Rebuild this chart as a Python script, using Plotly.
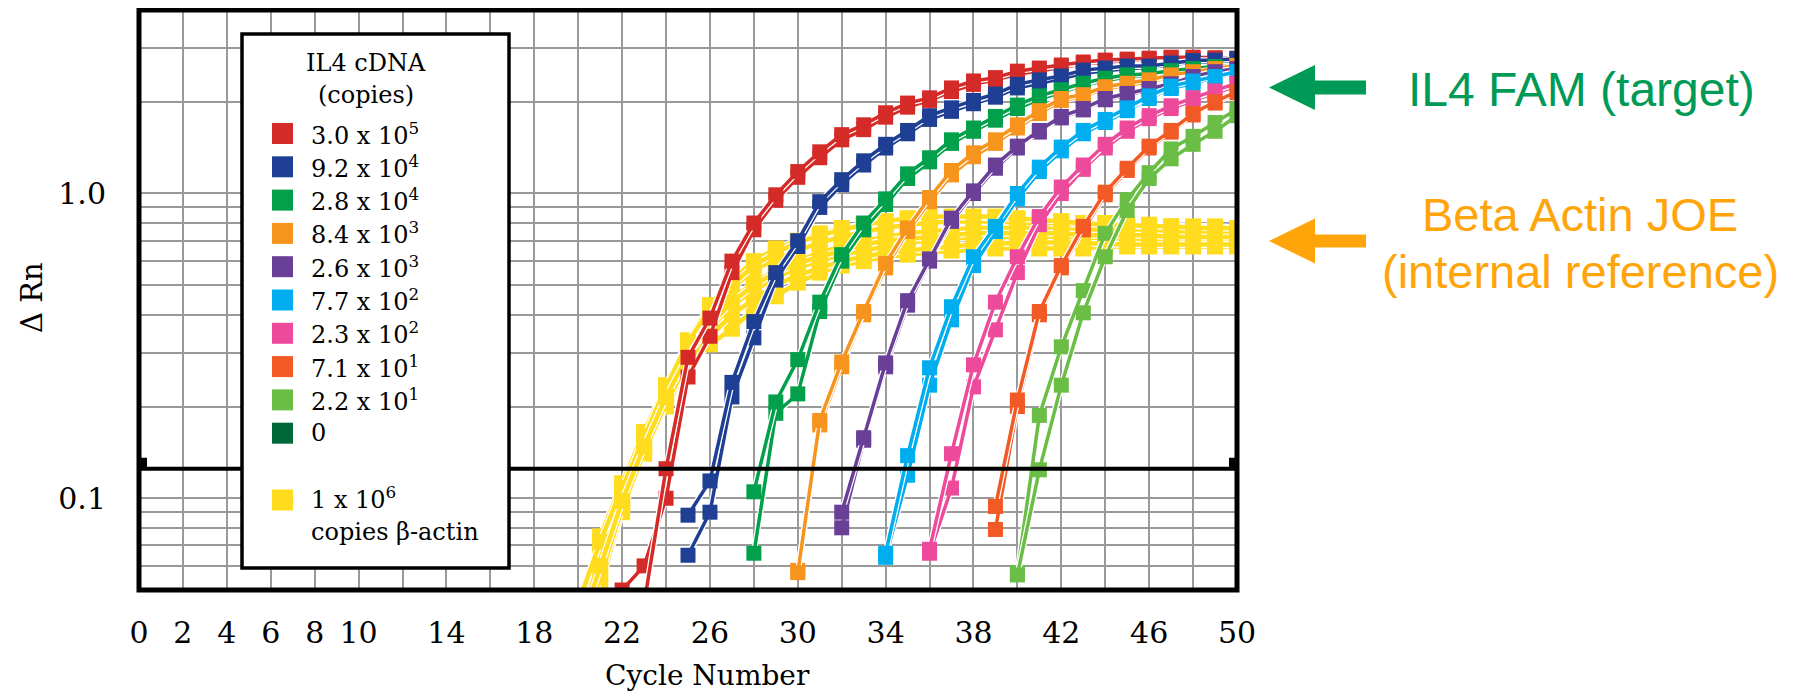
import plotly.graph_objects as go

# ---------------- data ----------------
CYCLE_GRID = list(range(0, 51, 2))
CYCLE_LABELED = [0, 2, 4, 6, 8, 10, 14, 18, 22, 26, 30, 34, 38, 42, 46, 50]
RN_MINOR = [0.06, 0.07, 0.08, 0.09, 0.2, 0.3, 0.4, 0.5, 0.6, 0.7, 0.8, 0.9, 2.0, 3.0]
RN_MAJOR = [0.1, 1.0]
RN_LABELS = ["0.1", "1.0"]
RN_RANGE_LOG = [-1.30103, 0.60206]   # 0.05 .. 4.0
CYCLE_RANGE = [0, 50]
THRESHOLD = 0.125

IL4_NAMES = ["3.0 x 10<sup>5</sup>", "9.2 x 10<sup>4</sup>", "2.8 x 10<sup>4</sup>",
             "8.4 x 10<sup>3</sup>", "2.6 x 10<sup>3</sup>", "7.7 x 10<sup>2</sup>",
             "2.3 x 10<sup>2</sup>", "7.1 x 10<sup>1</sup>", "2.2 x 10<sup>1</sup>", "0"]
IL4_COLORS = ["#D52B28", "#1F3F94", "#03A04B", "#F7941D", "#6A3F98",
              "#00AEEF", "#EE4A9B", "#F15A24", "#6ABD45", "#006838"]
ACTIN_NAME = "1 x 10<sup>6</sup>"
ACTIN_NAME2 = "copies β-actin"
ACTIN_COLOR = "#FFDC1E"

# IL4 replicate amplification curves: (first cycle, delta Rn per cycle)
rep_3_0e5 = [
    (22, [0.050, 0.060, 0.100, 0.250, 0.340, 0.550, 0.760, 0.950, 1.13, 1.31, 1.50, 1.62, 1.78, 1.92, 2.02,
          2.16, 2.28, 2.36, 2.46, 2.53, 2.60, 2.66, 2.70, 2.73, 2.75, 2.78, 2.78, 2.77, 2.76]),
    (23, [0.045, 0.125, 0.290, 0.390, 0.600, 0.800, 0.990, 1.18, 1.37, 1.56, 1.68, 1.84, 1.98, 2.06,
          2.22, 2.34, 2.40, 2.52, 2.58, 2.64, 2.70, 2.74, 2.76, 2.78, 2.80, 2.80, 2.79, 2.78]),
]
rep_9_2e4 = [
    (25, [0.065, 0.090, 0.215, 0.336, 0.520, 0.670, 0.900, 1.07, 1.24, 1.41, 1.57, 1.75, 1.86, 1.97,
          2.07, 2.22, 2.30, 2.38, 2.48, 2.53, 2.57, 2.59, 2.64, 2.70, 2.70, 2.74]),
    (25, [0.088, 0.114, 0.240, 0.380, 0.550, 0.700, 0.940, 1.11, 1.28, 1.45, 1.61, 1.80, 1.91, 2.02,
          2.12, 2.28, 2.36, 2.43, 2.54, 2.58, 2.62, 2.62, 2.68, 2.73, 2.74, 2.77]),
]
rep_2_8e4 = [
    (28, [0.066, 0.190, 0.220, 0.410, 0.600, 0.760, 0.920, 1.12, 1.27, 1.46, 1.60, 1.74, 1.90, 2.04,
          2.15, 2.26, 2.35, 2.41, 2.44, 2.50, 2.54, 2.58, 2.60]),
    (28, [0.105, 0.207, 0.285, 0.440, 0.630, 0.800, 0.960, 1.16, 1.31, 1.50, 1.64, 1.79, 1.95, 2.09,
          2.19, 2.30, 2.39, 2.45, 2.47, 2.53, 2.57, 2.61, 2.63]),
]
rep_8_4e3 = [
    (30, [0.058, 0.174, 0.270, 0.400, 0.570, 0.750, 0.940, 1.15, 1.32, 1.46, 1.64, 1.83, 2.02, 2.08,
          2.21, 2.26, 2.32, 2.41, 2.48, 2.54, 2.60]),
    (30, [0.057, 0.180, 0.280, 0.410, 0.590, 0.770, 0.970, 1.19, 1.36, 1.50, 1.68, 1.87, 2.05, 2.11,
          2.24, 2.30, 2.36, 2.45, 2.51, 2.57, 2.63]),
]
rep_2_6e3 = [
    (32, [0.080, 0.155, 0.270, 0.430, 0.600, 0.810, 1.00, 1.21, 1.41, 1.59, 1.77, 1.88, 2.03, 2.11,
          2.19, 2.27, 2.40, 2.49, 2.55]),
    (32, [0.090, 0.158, 0.278, 0.445, 0.610, 0.830, 1.02, 1.24, 1.43, 1.61, 1.79, 1.90, 2.05, 2.13,
          2.21, 2.29, 2.42, 2.51, 2.57]),
]
rep_7_7e2 = [
    (34, [0.064, 0.119, 0.235, 0.385, 0.580, 0.750, 0.960, 1.18, 1.38, 1.57, 1.71, 1.87, 2.05, 2.21,
          2.30, 2.40, 2.48]),
    (34, [0.066, 0.138, 0.268, 0.425, 0.620, 0.780, 1.00, 1.22, 1.42, 1.61, 1.75, 1.91, 2.09, 2.25,
          2.34, 2.42, 2.51]),
]
rep_2_3e2 = [
    (36, [0.066, 0.108, 0.232, 0.357, 0.550, 0.790, 1.00, 1.20, 1.41, 1.60, 1.76, 1.90, 2.02, 2.13, 2.26]),
    (36, [0.068, 0.140, 0.274, 0.440, 0.620, 0.840, 1.05, 1.24, 1.45, 1.64, 1.80, 1.94, 2.06, 2.17, 2.30]),
]
rep_7_1e1 = [
    (39, [0.079, 0.200, 0.400, 0.570, 0.760, 0.990, 1.19, 1.41, 1.59, 1.81, 1.98, 2.14]),
    (39, [0.094, 0.210, 0.410, 0.580, 0.780, 1.01, 1.21, 1.43, 1.61, 1.83, 2.00, 2.16]),
]
rep_2_2e1 = [
    (40, [0.057, 0.187, 0.314, 0.480, 0.740, 0.955, 1.17, 1.40, 1.54, 1.71, 1.89]),
    (40, [0.056, 0.124, 0.235, 0.406, 0.620, 0.880, 1.12, 1.30, 1.45, 1.60, 1.80]),
]
rep_0 = []   # no-template control: no amplification inside the axis range

IL4_REPLICATES = [rep_3_0e5, rep_9_2e4, rep_2_8e4, rep_8_4e3, rep_2_6e3,
                  rep_7_7e2, rep_2_3e2, rep_7_1e1, rep_2_2e1, rep_0]

# beta-actin (JOE) internal reference curves, from cycle 20
ACTIN_REPLICATES = [
    (20, [0.042, 0.075, 0.112, 0.165, 0.235, 0.330, 0.430, 0.520, 0.600, 0.660, 0.700, 0.740, 0.770, 0.790,
          0.810, 0.820, 0.830, 0.830, 0.830, 0.830, 0.820, 0.820, 0.810, 0.800, 0.800, 0.790, 0.790, 0.780,
          0.780, 0.780, 0.770]),
    (20, [0.040, 0.070, 0.106, 0.158, 0.228, 0.320, 0.410, 0.490, 0.560, 0.610, 0.650, 0.690, 0.720, 0.750,
          0.770, 0.790, 0.800, 0.810, 0.810, 0.810, 0.800, 0.800, 0.790, 0.790, 0.780, 0.780, 0.770, 0.770,
          0.760, 0.760, 0.760]),
    (20, [0.037, 0.064, 0.100, 0.150, 0.220, 0.300, 0.380, 0.450, 0.510, 0.560, 0.600, 0.640, 0.670, 0.700,
          0.720, 0.740, 0.750, 0.760, 0.770, 0.770, 0.770, 0.770, 0.760, 0.760, 0.760, 0.750, 0.750, 0.750,
          0.740, 0.740, 0.740]),
    (20, [0.035, 0.058, 0.096, 0.146, 0.212, 0.290, 0.360, 0.430, 0.480, 0.530, 0.570, 0.600, 0.630, 0.650,
          0.670, 0.690, 0.700, 0.710, 0.720, 0.720, 0.720, 0.720, 0.720, 0.710, 0.710, 0.710, 0.710, 0.700,
          0.700, 0.700, 0.700]),
    (20, [0.033, 0.052, 0.090, 0.140, 0.200, 0.270, 0.320, 0.360, 0.415, 0.460, 0.510, 0.550, 0.580, 0.600,
          0.620, 0.630, 0.640, 0.650, 0.650, 0.660, 0.660, 0.660, 0.660, 0.660, 0.670, 0.670, 0.670, 0.670,
          0.670, 0.670, 0.670]),
    (20, [0.034, 0.055, 0.093, 0.142, 0.205, 0.280, 0.340, 0.400, 0.450, 0.500, 0.540, 0.570, 0.600, 0.620,
          0.640, 0.650, 0.660, 0.675, 0.680, 0.685, 0.690, 0.690, 0.690, 0.685, 0.685, 0.680, 0.680, 0.680,
          0.680, 0.680, 0.680]),
    (20, [0.045, 0.072, 0.108, 0.160, 0.232, 0.325, 0.420, 0.500, 0.580, 0.640, 0.690, 0.730, 0.760, 0.790,
          0.810, 0.830, 0.840, 0.840, 0.840, 0.840, 0.830, 0.820, 0.810, 0.800, 0.790, 0.790, 0.780, 0.780,
          0.770, 0.770, 0.770]),
    (20, [0.036, 0.060, 0.098, 0.148, 0.215, 0.295, 0.370, 0.440, 0.500, 0.550, 0.590, 0.620, 0.650, 0.680,
          0.700, 0.710, 0.720, 0.730, 0.740, 0.740, 0.740, 0.740, 0.740, 0.730, 0.730, 0.730, 0.730, 0.720,
          0.720, 0.720, 0.720]),
]

LEGEND_TITLE = ["IL4 cDNA", "(copies)"]
NOTE_TARGET = "IL4 FAM (target)"
NOTE_REF = ["Beta Actin JOE", "(internal reference)"]
NOTE_GREEN = "#009A57"
NOTE_ORANGE = "#FFA50A"

# ---------------- layout geometry ----------------
# page pixels; the browser's default 8px body margin is compensated below
PAGE_W, PAGE_H, OFF = 1799, 700, 8
FIG_W, FIG_H = PAGE_W - 2 * OFF, PAGE_H - 2 * OFF
L, R, T, B = 139, 1237, 10, 590          # plot area in page pixels
PW, PH = R - L, B - T


def fx(px):
    return (px - L) / PW


def fy(py):
    return (B - py) / PH


SERIF = "DejaVu Serif"
SANS = "Liberation Sans, Arial, sans-serif"

fig = go.Figure()


def cycles(start, vals):
    return list(range(start, start + len(vals)))


def add_curve(start, vals, color, lw, ms, name):
    xs = cycles(start, vals)
    fig.add_trace(go.Scatter(x=xs, y=vals, mode="lines",
                             line=dict(color="white", width=lw + 2.5),
                             showlegend=False, hoverinfo="skip"))
    fig.add_trace(go.Scatter(x=xs, y=vals, mode="lines+markers", name=name,
                             line=dict(color=color, width=lw),
                             marker=dict(symbol="square", size=ms, color=color),
                             showlegend=False))


for start, vals in ACTIN_REPLICATES:
    add_curve(start, vals, ACTIN_COLOR, 4.5, 16, "1 x 10^6 β-actin")

for name, color, reps in zip(IL4_NAMES, IL4_COLORS, IL4_REPLICATES):
    for start, vals in reps:
        add_curve(start, vals, color, 3.5, 15, name)

# threshold line
fig.add_trace(go.Scatter(x=CYCLE_RANGE, y=[THRESHOLD, THRESHOLD], mode="lines",
                         line=dict(color="black", width=4), showlegend=False,
                         hoverinfo="skip"))

shapes = []
for xa, off in ((CYCLE_RANGE[0], (2, 8)), (CYCLE_RANGE[1], (-8, -2))):
    shapes.append(dict(type="rect", xref="x", yref="y", xsizemode="pixel", ysizemode="pixel",
                       xanchor=xa, yanchor=THRESHOLD, x0=off[0], x1=off[1], y0=-11, y1=11,
                       fillcolor="black", line=dict(width=0), layer="above"))
shapes.append(dict(type="rect", xref="paper", yref="paper", x0=0, x1=1, y0=0, y1=1,
                   line=dict(color="black", width=5), layer="above"))
shapes.append(dict(type="rect", xref="paper", yref="paper",
                   x0=fx(242), x1=fx(509), y0=fy(568), y1=fy(34),
                   fillcolor="white", line=dict(color="black", width=3.5), layer="above"))

annotations = []
LEG_FONT = dict(family=SERIF, size=24, color="black")
annotations.append(dict(xref="paper", yref="paper", x=fx(366), y=fy(63), text=LEGEND_TITLE[0],
                        showarrow=False, xanchor="center", yanchor="middle", font=LEG_FONT))
annotations.append(dict(xref="paper", yref="paper", x=fx(366), y=fy(95), text=LEGEND_TITLE[1],
                        showarrow=False, xanchor="center", yanchor="middle", font=LEG_FONT))

entry_rows = [133.5 + 33.3 * i for i in range(len(IL4_NAMES))]
for (name, color), yc in zip(zip(IL4_NAMES, IL4_COLORS), entry_rows):
    shapes.append(dict(type="rect", xref="paper", yref="paper",
                       x0=fx(272), x1=fx(293), y0=fy(yc + 10.5), y1=fy(yc - 10.5),
                       fillcolor=color, line=dict(width=0), layer="above"))
    annotations.append(dict(xref="paper", yref="paper", x=fx(309), y=fy(yc), text=name,
                            showarrow=False, xanchor="left", yanchor="middle", font=LEG_FONT))

shapes.append(dict(type="rect", xref="paper", yref="paper",
                   x0=fx(272), x1=fx(293), y0=fy(510.5), y1=fy(489.5),
                   fillcolor=ACTIN_COLOR, line=dict(width=0), layer="above"))
annotations.append(dict(xref="paper", yref="paper", x=fx(309), y=fy(498), text=ACTIN_NAME,
                        showarrow=False, xanchor="left", yanchor="middle", font=LEG_FONT))
annotations.append(dict(xref="paper", yref="paper", x=fx(309), y=fy(532), text=ACTIN_NAME2,
                        showarrow=False, xanchor="left", yanchor="middle", font=LEG_FONT))

annotations.append(dict(xref="paper", yref="paper", x=fx(32), y=fy(298), text="Δ Rn",
                        textangle=-90, showarrow=False, xanchor="center", yanchor="middle",
                        font=dict(family=SERIF, size=29, color="black")))
annotations.append(dict(xref="paper", yref="paper", x=fx(707), y=fy(675), text="Cycle Number",
                        showarrow=False, xanchor="center", yanchor="middle",
                        font=dict(family=SERIF, size=28, color="black")))

annotations.append(dict(xref="paper", yref="paper", x=fx(1581), y=fy(89), text=NOTE_TARGET,
                        showarrow=False, xanchor="center", yanchor="middle",
                        font=dict(family=SANS, size=48, color=NOTE_GREEN)))
annotations.append(dict(xref="paper", yref="paper", x=fx(1580), y=fy(214), text=NOTE_REF[0],
                        showarrow=False, xanchor="center", yanchor="middle",
                        font=dict(family=SANS, size=47, color=NOTE_ORANGE)))
annotations.append(dict(xref="paper", yref="paper", x=fx(1580), y=fy(271), text=NOTE_REF[1],
                        showarrow=False, xanchor="center", yanchor="middle",
                        font=dict(family=SANS, size=47, color=NOTE_ORANGE)))


def arrow_path(tip_x, yc, head_len, head_half, shaft_end, shaft_half):
    hx = tip_x + head_len
    pts = [(tip_x, yc), (hx, yc - head_half), (hx, yc - shaft_half), (shaft_end, yc - shaft_half),
           (shaft_end, yc + shaft_half), (hx, yc + shaft_half), (hx, yc + head_half)]
    return "M " + " L ".join(f"{fx(a):.5f},{fy(b):.5f}" for a, b in pts) + " Z"


shapes.append(dict(type="path", xref="paper", yref="paper",
                   path=arrow_path(1269, 87.5, 46, 22.5, 1366, 7),
                   fillcolor=NOTE_GREEN, line=dict(width=0)))
shapes.append(dict(type="path", xref="paper", yref="paper",
                   path=arrow_path(1269, 241, 46, 22.5, 1366, 6.5),
                   fillcolor=NOTE_ORANGE, line=dict(width=0)))

GRID = "#9A9A9A"
fig.update_layout(
    width=FIG_W, height=FIG_H,
    margin=dict(l=L - OFF, r=FIG_W - (R - OFF), t=T - OFF, b=FIG_H - (B - OFF), autoexpand=False),
    paper_bgcolor="white", plot_bgcolor="white",
    showlegend=False,
    shapes=shapes, annotations=annotations,
    xaxis=dict(range=CYCLE_RANGE, tickmode="array", tickvals=CYCLE_LABELED,
               ticktext=[str(v) for v in CYCLE_LABELED],
               showgrid=True, gridcolor=GRID, gridwidth=2, zeroline=False,
               minor=dict(tickmode="array", tickvals=CYCLE_GRID, showgrid=True,
                          gridcolor=GRID, gridwidth=2, ticks=""),
               showline=False, ticks="", ticklabelstandoff=22,
               tickfont=dict(family=SERIF, size=30, color="black")),
    yaxis=dict(type="log", range=RN_RANGE_LOG, tickmode="array", tickvals=RN_MAJOR,
               ticktext=RN_LABELS,
               showgrid=True, gridcolor=GRID, gridwidth=2, zeroline=False,
               minor=dict(tickmode="array", tickvals=RN_MINOR, showgrid=True,
                          gridcolor=GRID, gridwidth=2, ticks=""),
               showline=False, ticks="", ticklabelstandoff=32,
               tickfont=dict(family=SERIF, size=30, color="black")),
)

fig.write_html("out.html")
